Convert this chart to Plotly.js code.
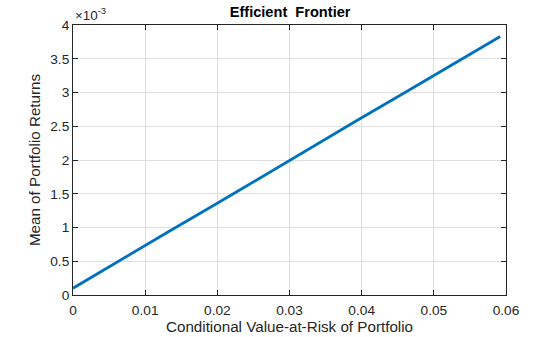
<!DOCTYPE html>
<html><head><meta charset="utf-8">
<script src="https://cdn.plot.ly/plotly-3.0.1.min.js"></script>
<style>html,body{margin:0;padding:0;background:#fff;}#c{width:560px;height:337px;}</style>
</head><body><div id="c"></div>
<script>
const cvar = [0, 0.0066, 0.0131, 0.0197, 0.0263, 0.0329, 0.0394, 0.0460, 0.0526, 0.0592];
const meanRet = [0.10, 0.52, 0.93, 1.34, 1.76, 2.18, 2.59, 3.00, 3.42, 3.83]; // x 1e-3
const xTicks = [0, 0.01, 0.02, 0.03, 0.04, 0.05, 0.06];
const yTicks = [0, 0.5, 1, 1.5, 2, 2.5, 3, 3.5, 4];

const fam = 'Liberation Sans, Arial, sans-serif';
const axBase = {
  showline: true, linecolor: '#262626', linewidth: 1, mirror: 'ticks',
  ticks: 'inside', ticklen: 5, tickcolor: '#262626',
  showgrid: true, gridcolor: '#dfdfdf', gridwidth: 1, zeroline: false,
  tickfont: {family: fam, size: 13.7, color: '#262626'}
};
const data = [{x: cvar, y: meanRet, mode: 'lines', type: 'scatter',
  line: {color: '#0072BD', width: 2.8}, hoverinfo: 'none'}];
const layout = {
  width: 560, height: 337,
  margin: {l: 73, r: 54, t: 25, b: 42},
  paper_bgcolor: '#fff', plot_bgcolor: '#fff',
  showlegend: false,
  title: {text: '<b>Efficient  Frontier</b>', x: 0.518, xanchor: 'center', y: 0.966, yanchor: 'middle',
    font: {family: fam, size: 14.6, color: '#000'}},
  xaxis: Object.assign({}, axBase, {range: [0, 0.06], tickvals: xTicks,
    ticktext: xTicks.map(String), ticklabelstandoff: 3,
    title: {text: 'Conditional Value-at-Risk of Portfolio', standoff: 2,
      font: {family: fam, size: 15.2, color: '#262626'}}}),
  yaxis: Object.assign({}, axBase, {range: [0, 4], tickvals: yTicks,
    ticktext: yTicks.map(String),
    title: {text: 'Mean of Portfolio Returns', standoff: 5,
      font: {family: fam, size: 15.2, color: '#262626'}}}),
  annotations: [{xref: 'paper', yref: 'paper', x: 0, y: 1, xanchor: 'left', yanchor: 'bottom',
    xshift: 0, yshift: 0, showarrow: false, text: '×10<sup>-3</sup>',
    font: {family: fam, size: 13.4, color: '#262626'}}]
};
Plotly.newPlot('c', data, layout, {staticPlot: true, displayModeBar: false});
</script></body></html>
